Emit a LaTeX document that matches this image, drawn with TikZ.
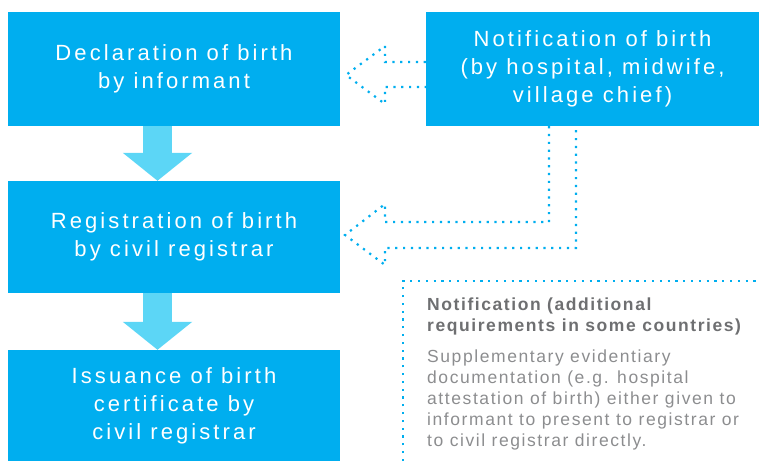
\documentclass[tikz,border=0pt]{standalone}
\usepackage{fontspec}
\newfontfamily\boxfont[LetterSpace=14]{Liberation Sans}
\newfontfamily\notefont[LetterSpace=9]{Liberation Sans}
\usetikzlibrary{arrows.meta}
\definecolor{unicyan}{HTML}{00AEEF}
\definecolor{lightcyan}{HTML}{5CD6F6}
\definecolor{notegray}{HTML}{8C8D8F}
\definecolor{headgray}{HTML}{6E6F71}

\begin{document}
\begin{tikzpicture}[x=1pt,y=1pt,
  bluebox/.style={rectangle,fill=unicyan,text=white,minimum width=332,minimum height=114,inner sep=0,align=center,font=\boxfont\fontsize{22}{28}\selectfont},
  fatarrow/.style={draw=lightcyan,line width=29,-{Triangle[length=28pt,width=68pt]}},
  dotline/.style={draw=unicyan,line width=2.2,dash pattern=on 2.2 off 5.6},
  notetext/.style={anchor=north west,inner sep=0,align=left,font=\notefont\fontsize{17.5}{21}\selectfont}]
  \useasboundingbox (0,0) rectangle (759,461);

  % left column
  \node [bluebox] (decl)  at (174,392)  {Declaration of birth\\by informant};
  \node [bluebox,minimum height=112] (reg) at (174,224) {Registration of birth\\by civil registrar};
  \node [bluebox,minimum height=111] (issue) at (174,55.5) {Issuance of birth\\certificate by\\civil registrar};
  \node [bluebox,minimum width=333] (notif) at (592.5,392) {Notification of birth\\(by hospital, midwife,\\village chief)};

  \foreach \a/\b in {decl/reg,reg/issue}
    \draw [fatarrow] ([xshift=-16.5]\a.south) -- ([xshift=-16.5]\b.north);

  % dotted arrows
  \draw [dotline] ([yshift=7]notif.west) -| (385,415) -- (346,386) -- (385,357) |- ([yshift=-18]notif.west);
  \draw [dotline] ([xshift=-43.5]notif.south) |- (385,239) -- (385,257) -- (345,226) -- (385,196) -- (385,213) -| ([xshift=-16.5]notif.south);

  % note
  \draw [dotline] (403,0) |- (759,180);
  \node [notetext,text=headgray,font=\notefont\bfseries\fontsize{17.5}{21}\selectfont] (nhead) at (427,163)
    {Notification (additional\\requirements in some countries)};
  \node [notetext,text=notegray] (nbody) at (427,111)
    {Supplementary evidentiary\\documentation (e.g. hospital\\attestation of birth) either given to\\informant to present to registrar or\\to civil registrar directly.};
\end{tikzpicture}
\end{document}
